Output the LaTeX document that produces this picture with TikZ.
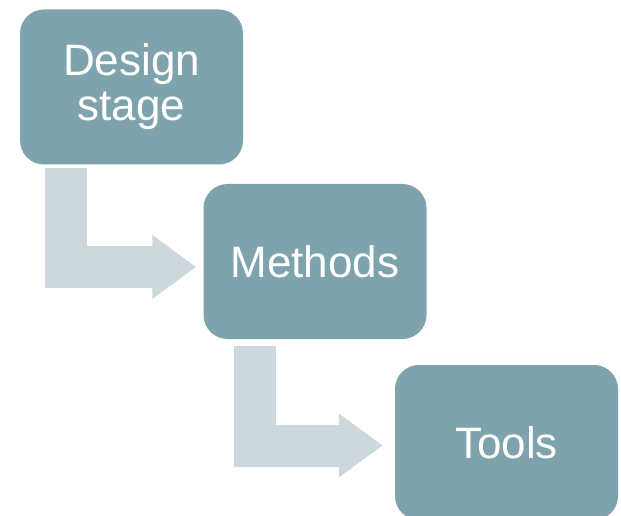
\documentclass[tikz,border=0pt]{standalone}
\usepackage{fontspec}
\setmainfont{Liberation Sans}
\usetikzlibrary{arrows.meta}

\definecolor{boxfill}{RGB}{127,163,172}
\definecolor{arrowfill}{RGB}{205,216,220}

\begin{document}
\begin{tikzpicture}
                [
                x=1pt,y=1pt,
                stage/.style={rounded corners=24pt,fill=boxfill,text=white,align=center,
                    minimum width=223pt,minimum height=155pt,inner sep=0pt,
                    font=\fontsize{44}{45}\selectfont},
                bent/.style={draw=arrowfill,line width=42pt,
                    -{Triangle[length=44pt,width=61pt,fill=arrowfill]}}
                ]
            \useasboundingbox (0,0) rectangle (621,515);
            \clip (0,0) rectangle (621,515);
            \node[stage] (1) at (131.5,428) {Design\\stage};
            \node[stage] (2) at (315,253.5) {Methods};
            \node[stage] (3) at (506.5,72.5) {Tools};
            \draw[bent] ([shift={(46.5,-3)}]1.south west) |- ([shift={(-7,-5.5)}]2.west);
            \draw[bent] ([shift={(51.5,-7)}]2.south west) |- ([shift={(-12,-3)}]3.west);
            \end{tikzpicture}
\end{document}
